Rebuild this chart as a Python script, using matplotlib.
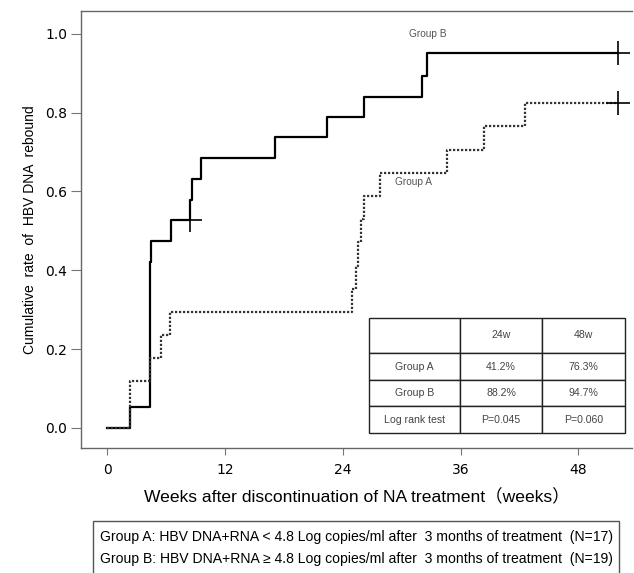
import matplotlib.pyplot as plt
from matplotlib.patches import Rectangle

plt.rcParams['font.family'] = ['Liberation Sans', 'Noto Sans CJK SC', 'DejaVu Sans']

# DATA (weeks, cumulative rate) - step functions
weeks_a = [0, 2.37, 4.34, 5.53, 6.45, 24.9, 25.3, 25.6, 25.9, 26.13, 27.83, 34.63, 38.43, 42.6, 52.07]
rate_a = [0, 0.118, 0.177, 0.236, 0.294, 0.353, 0.412, 0.471, 0.529, 0.588, 0.647, 0.706, 0.765, 0.824, 0.824]
weeks_b = [0, 2.37, 4.34, 4.51, 6.55, 8.41, 8.66, 9.57, 17.14, 22.4, 26.2, 32.08, 32.59, 52.07]
rate_b = [0, 0.053, 0.421, 0.474, 0.527, 0.579, 0.631, 0.684, 0.737, 0.789, 0.841, 0.893, 0.951, 0.951]
censor_a = ([52.07], [0.824])
censor_b = ([8.41, 52.07], [0.527, 0.951])

xticks = [0, 12, 24, 36, 48]
yticks = [0.0, 0.2, 0.4, 0.6, 0.8, 1.0]

table_rows = [["", "24w", "48w"],
              ["Group A", "41.2%", "76.3%"],
              ["Group B", "88.2%", "94.7%"],
              ["Log rank test", "P=0.045", "P=0.060"]]

legend_lines = ["Group A: HBV DNA+RNA < 4.8 Log copies/ml after  3 months of treatment  (N=17)",
                "Group B: HBV DNA+RNA \u2265 4.8 Log copies/ml after  3 months of treatment  (N=19)"]

# PLOT
fig = plt.figure(figsize=(6.34, 5.73), dpi=100)
ax = fig.add_axes([81 / 634, 125 / 573, 551 / 634, 437 / 573])

ax.step(weeks_b, rate_b, where="post", color="black", linewidth=1.6)
ax.step(weeks_a, rate_a, where="post", color="#333333", linewidth=1.6, linestyle=(0, (1, 0.8)))
ax.plot(*censor_b, "+", color="black", markersize=17, markeredgewidth=1.2)
ax.plot(*censor_a, "+", color="black", markersize=17, markeredgewidth=1.2)

ax.text(32.7, 1.0, "Group B", fontsize=7.3, color="#555555", ha="center", va="center")
ax.text(31.2, 0.624, "Group A", fontsize=7.3, color="#555555", ha="center", va="center")

ax.set_xlim(-2.65, 53.45)
ax.set_ylim(-0.051, 1.058)
ax.set_xticks(xticks)
ax.set_yticks(yticks)
ax.set_yticklabels([f"{v:.1f}" for v in yticks])
ax.tick_params(axis="y", direction="out", length=7, width=0.8, color="#777777", labelsize=10, pad=3)
ax.tick_params(axis="x", direction="out", length=5, width=0.8, color="#777777", labelsize=10, pad=6)
for lab in ax.get_xticklabels() + ax.get_yticklabels():
    lab.set_family(["DejaVu Sans"])

ax.spines["right"].set_visible(False)
for s in ["top", "bottom", "left"]:
    ax.spines[s].set_color("#666666")
    ax.spines[s].set_linewidth(1.0)

ax.set_ylabel("Cumulative  rate  of  HBV DNA  rebound", fontsize=10, labelpad=6)
ax.set_xlabel("Weeks after discontinuation of NA treatment\uff08weeks\uff09", fontsize=12.6, labelpad=8)

# summary table
tab = ax.table(cellText=table_rows, cellLoc="center", colWidths=[91, 82, 83],
               bbox=[0.523, 0.0343, 0.464, 0.2632])
tab.auto_set_font_size(False)
tab.set_fontsize(7.6)
row_h = [35, 27, 26, 27]
for (r, c), cell in tab.get_celld().items():
    cell.set_height(row_h[r])
    cell.set_linewidth(1.0)
    cell.set_edgecolor("#222222")
    cell.get_text().set_color("#444444")

# legend box below
fig.add_artist(Rectangle((93 / 634, -0.01), (619 - 93) / 634, (573 - 521) / 573 + 0.01,
                         transform=fig.transFigure, fill=False, edgecolor="#555555", linewidth=1.0))
fig.text(100 / 634, 1 - 537 / 573, legend_lines[0], fontsize=10.1, va="center", ha="left")
fig.text(100 / 634, 1 - 559 / 573, legend_lines[1], fontsize=10.1, va="center", ha="left")

fig.savefig("out.png", dpi=100)
